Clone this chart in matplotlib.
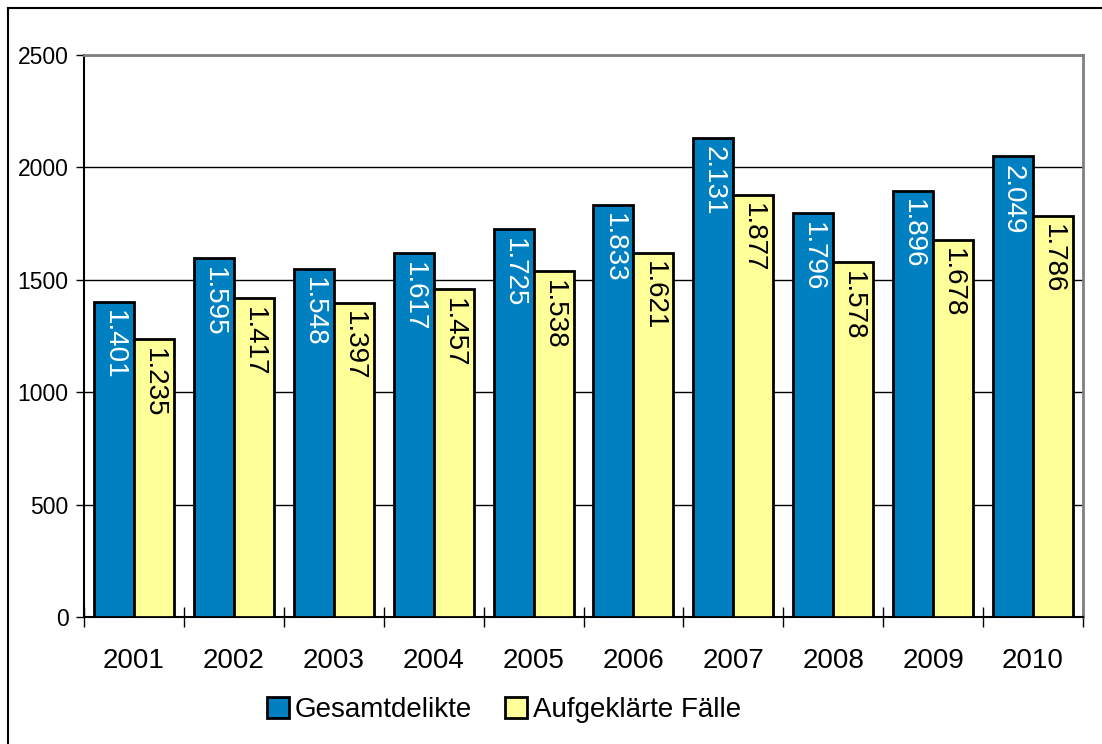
import numpy as np
import matplotlib.pyplot as plt
from matplotlib.lines import Line2D

years = ["2001", "2002", "2003", "2004", "2005", "2006", "2007", "2008", "2009", "2010"]
gesamt = [1401, 1595, 1548, 1617, 1725, 1833, 2131, 1796, 1896, 2049]
aufgeklaert = [1235, 1417, 1397, 1457, 1538, 1621, 1877, 1578, 1678, 1786]
yticks = [0, 500, 1000, 1500, 2000, 2500]

plt.rcParams["font.family"] = ["Liberation Sans", "DejaVu Sans"]

blue = "#0080C0"
yellow = "#FFFF99"

fig = plt.figure(figsize=(11.02, 7.44), dpi=100)
ax = fig.add_axes([84 / 1102, 1 - 617 / 744, (1083 - 84) / 1102, (617 - 55) / 744])

x = np.arange(len(years))
w = 0.4
b1 = ax.bar(x - w / 2, gesamt, w, color=blue, edgecolor="black", linewidth=2,
            label="Gesamtdelikte", zorder=3)
b2 = ax.bar(x + w / 2, aufgeklaert, w, color=yellow, edgecolor="black", linewidth=2,
            label="Aufgeklärte Fälle", zorder=3)

# value labels, German thousands separator, rotated inside the bar top
for bars, vals, col in [(b1, gesamt, "white"), (b2, aufgeklaert, "black")]:
    for rect, v in zip(bars, vals):
        ax.annotate(f"{v:,}".replace(",", "."),
                    (rect.get_x() + rect.get_width() / 2, v),
                    xytext=(0, -6), textcoords="offset points",
                    rotation=270, ha="center", va="top",
                    fontsize=20, color=col, zorder=4)

ax.set_xlim(-0.5, len(years) - 0.5)
ax.set_ylim(0, 2500)
ax.set_yticks(yticks)
ax.tick_params(axis="y", labelsize=16.5, length=6, direction="out", width=1, pad=5)
ax.yaxis.grid(True, color="black", linewidth=1, zorder=0)

ax.set_xticks(x)
ax.set_xticklabels(years, fontsize=20)
ax.tick_params(axis="x", length=0, pad=22)
# category boundary ticks crossing the axis
ax.set_xticks(np.arange(-0.5, len(years)), minor=True)
ax.tick_params(axis="x", which="minor", length=14, direction="inout", width=1)

for s in ["top", "right"]:
    ax.spines[s].set_color("#808080")
    ax.spines[s].set_linewidth(2)
for s in ["left", "bottom"]:
    ax.spines[s].set_color("black")
    ax.spines[s].set_linewidth(1.5)

fig.legend(handles=[b1, b2], loc="center", bbox_to_anchor=(504 / 1102, 1 - 710 / 744),
           ncol=2, frameon=False, fontsize=20, handlelength=0.8, handleheight=0.8,
           handletextpad=0.2, columnspacing=1.2)

# outer chart border
fig.add_artist(Line2D([8 / 1102, 8 / 1102], [0, 1 - 8 / 744], color="black",
                      linewidth=1.5, transform=fig.transFigure))
fig.add_artist(Line2D([8 / 1102, 1], [1 - 8 / 744, 1 - 8 / 744], color="black",
                      linewidth=1.5, transform=fig.transFigure))

fig.savefig("out.png", dpi=100)
